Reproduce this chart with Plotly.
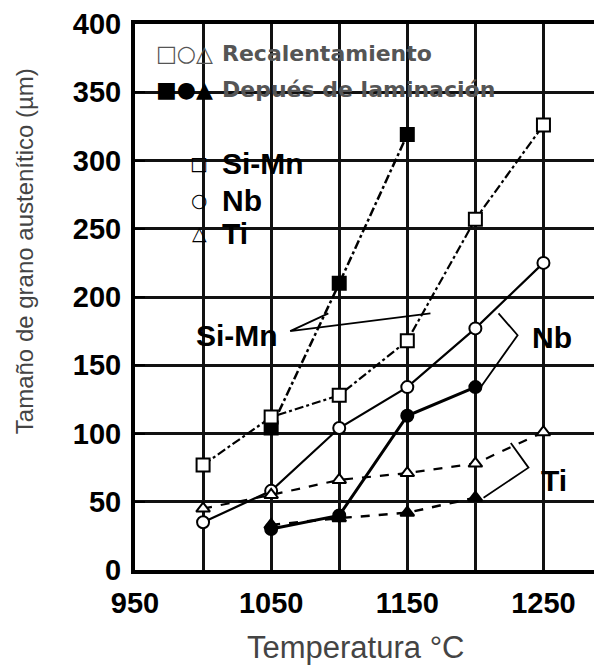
import plotly.graph_objects as go

# ---- data ----
temps = [1000, 1050, 1100, 1150, 1200, 1250]
simn_recal = [77, 112, 128, 168, 257, 326]
nb_recal = [35, 58, 104, 134, 177, 225]
ti_recal = [45, 55, 66, 71, 78, 101]

temps_simn_lam = [1050, 1100, 1150]
simn_lam = [104, 210, 319]
temps_nb_lam = [1050, 1100, 1150, 1200]
nb_lam = [30, 40, 113, 134]
temps_ti_lam = [1050, 1100, 1150, 1200]
ti_lam = [33, 38, 42, 53]

x_ticks = [950, 1050, 1150, 1250]
y_ticks = [0, 50, 100, 150, 200, 250, 300, 350, 400]

# page offset (default body margin of the html page)
OFF = 8
L, T, B = 135, 22, 96
W, H = 602, 666
PW, PH = W - L, 570 - T

fig = go.Figure()

def add(x, y, dash, symbol, filled, width=2.2, size=12):
    fig.add_trace(go.Scatter(
        x=x, y=y, mode="lines+markers",
        line=dict(color="black", width=width, dash=dash),
        marker=dict(symbol=symbol, size=size, color="black" if filled else "white",
                    line=dict(color="black", width=2)),
        showlegend=False, cliponaxis=False))

add(temps_nb_lam, nb_lam, "solid", "circle", True, width=3, size=12)
add(temps_ti_lam, ti_lam, "dash", "triangle-up", True, width=2.5, size=12)
add(temps_simn_lam, simn_lam, "dashdot", "square", True, width=2.5, size=13)
add(temps, nb_recal, "solid", "circle", False, width=2.2, size=12)
add(temps, ti_recal, "dash", "triangle-up", False, width=2.2, size=12)
add(temps, simn_recal, "dashdot", "square", False, width=2.2, size=13)

# bracket lines for labels
def seg(xs, ys):
    fig.add_trace(go.Scatter(x=xs, y=ys, mode="lines", line=dict(color="black", width=1.8),
                             showlegend=False, hoverinfo="skip"))

seg([1092, 1064, 1167], [188, 175, 188])
seg([1217, 1231, 1204], [188, 172, 134])
seg([1226, 1239, 1206], [93, 75, 53])

fig.update_layout(
    width=W - OFF, height=H - OFF,
    margin=dict(l=L - OFF, r=0, t=T - OFF, b=B),
    plot_bgcolor="white", paper_bgcolor="white",
    font=dict(family="Liberation Sans, Arial, sans-serif", color="black"),
)

grid = dict(showgrid=True, gridcolor="#111", gridwidth=2.5)
fig.update_xaxes(range=[950, 1293], tickvals=x_ticks, ticktext=[str(v) for v in x_ticks],
                 tickfont=dict(size=29, family="Liberation Sans", weight="bold"),
                 showline=True, linecolor="black", linewidth=4, mirror=True,
                 ticks="", zeroline=False, ticklabelstandoff=4, ticklabeloverflow="allow",
                 minor=dict(dtick=50, tick0=950, showgrid=True, gridcolor="#111", gridwidth=2.5),
                 **grid)
fig.update_yaxes(range=[0, 400], tickvals=y_ticks,
                 tickfont=dict(size=29, family="Liberation Sans", weight="bold"),
                 showline=True, linecolor="black", linewidth=4,
                 ticks="inside", ticklen=10, tickwidth=2, tickcolor="black",
                 zeroline=False, ticklabelstandoff=4, ticklabeloverflow="allow", **grid)

def px(xp):
    return (xp - L) / PW

def py(yp):
    return (570 - yp) / PH

def note(text, x, y, size, color="black", family="Liberation Sans", xanchor="center", angle=0):
    return dict(x=px(x), y=py(y), xref="paper", yref="paper", showarrow=False, text=text,
                xanchor=xanchor, yanchor="middle", textangle=angle,
                font=dict(size=size, color=color, family=family))

ann = [
    note("□○△", 184, 52, 22, "#555", "DejaVu Sans"),
    note("<b>Recalentamiento</b>", 220, 52, 22, "#555", "DejaVu Sans", "left"),
    note("■●▲", 184, 88, 22, "black", "DejaVu Sans"),
    note("<b>Depués de laminación</b>", 220, 88, 22, "#555", "DejaVu Sans", "left"),
    note("□", 199, 162, 19, "black", "DejaVu Sans"),
    note("<b>Si-Mn</b>", 220, 162, 30, xanchor="left"),
    note("○", 199, 199, 19, "black", "DejaVu Sans"),
    note("<b>Nb</b>", 220, 199, 30, xanchor="left"),
    note("△", 199, 232, 19, "black", "DejaVu Sans"),
    note("<b>Ti</b>", 220, 232, 30, xanchor="left"),
    note("<b>Si-Mn</b>", 237, 335, 30),
    note("<b>Nb</b>", 552, 337, 30),
    note("<b>Ti</b>", 554, 480, 30),
    note("Tamaño de grano austenítico (µm)", 24, 250, 24, "#444", angle=-90),
    note("Temperatura °C", 355, 648, 31, "#444"),
]
fig.update_layout(annotations=ann)

fig.write_html("out.html")
